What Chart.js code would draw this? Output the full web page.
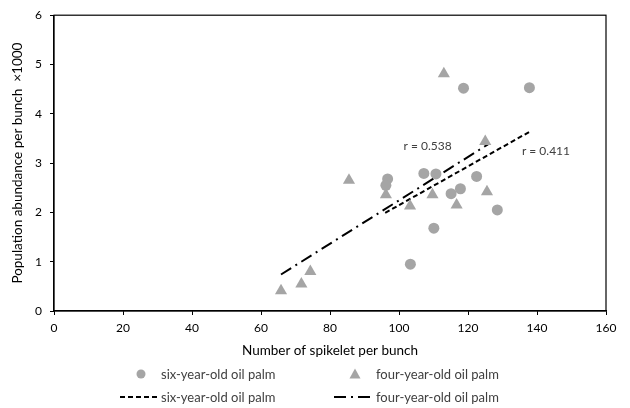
<!DOCTYPE html>
<html>
<head>
<meta charset="utf-8">
<script src="https://cdn.jsdelivr.net/npm/chart.js@4/dist/chart.umd.min.js"></script>
<style>
  html, body { margin: 0; padding: 0; background: #fff; }
  #wrap { width: 630px; height: 408px; }
</style>
</head>
<body>
<div id="wrap"><canvas id="spikeletChart"></canvas></div>
<script>
// Six-year-old palms (circles)
const sixX = [96.7, 96.2, 107.2, 110.7, 118.7, 137.8, 122.5, 117.8, 115.1, 128.5, 110.1, 103.3];
const sixY = [2.68, 2.55, 2.79, 2.78, 4.52, 4.53, 2.73, 2.48, 2.38, 2.05, 1.68, 0.95];
// Four-year-old palms (triangles)
const fourX = [113.0, 125.0, 85.5, 96.2, 109.7, 103.2, 116.7, 125.5, 74.3, 71.7, 65.8];
const fourY = [4.81, 3.44, 2.65, 2.36, 2.36, 2.13, 2.15, 2.42, 0.80, 0.55, 0.41];
// Trend line end points
const sixTrendX = [96.0, 137.7];
const sixTrendY = [1.99, 3.63];
const fourTrendX = [65.8, 125.8];
const fourTrendY = [0.74, 3.38];
// r labels
const rLabels = ['r = 0.538', 'r = 0.411'];
const rX = [108.3, 142.6];
const rY = [3.34, 3.24];

const xTicks = [0, 20, 40, 60, 80, 100, 120, 140, 160];
const yTicks = [0, 1, 2, 3, 4, 5, 6];

const FONT = 'Lato, "Noto Sans", sans-serif';
const GREY = '#a5a5a5';

const toPts = (xs, ys) => xs.map((x, i) => ({ x: x, y: ys[i] }));

// box around plot, r labels and the bottom legend
const extras = {
    id: 'extras',
    afterDraw(chart) {
        const ctx = chart.ctx;
        const a = chart.chartArea;
        const xs = chart.scales.x, ys = chart.scales.y;
        ctx.save();
        ctx.strokeStyle = '#000';
        ctx.lineWidth = 1.2;
        ctx.strokeRect(a.left, a.top, a.right - a.left, a.bottom - a.top);

        ctx.font = '12px ' + FONT;
        ctx.fillStyle = '#404040';
        ctx.textAlign = 'center';
        ctx.textBaseline = 'middle';
        rLabels.forEach((t, i) => ctx.fillText(t, xs.getPixelForValue(rX[i]), ys.getPixelForValue(rY[i])));

        // legend
        ctx.fillStyle = GREY;
        ctx.beginPath();
        ctx.arc(141, 374, 4.5, 0, Math.PI * 2);
        ctx.fill();
        ctx.beginPath();
        ctx.moveTo(355, 368.5);
        ctx.lineTo(360.5, 378.5);
        ctx.lineTo(349.5, 378.5);
        ctx.closePath();
        ctx.fill();

        ctx.font = '13px ' + FONT;
        ctx.textAlign = 'left';
        ctx.fillStyle = '#404040';
        ctx.fillText('six-year-old oil palm', 161, 375);
        ctx.fillText('four-year-old oil palm', 376, 375);
        ctx.fillText('six-year-old oil palm', 161, 398);
        ctx.fillText('four-year-old oil palm', 376, 398);

        ctx.strokeStyle = '#000';
        ctx.lineWidth = 2;
        ctx.setLineDash([5, 3]);
        ctx.beginPath();
        ctx.moveTo(120, 397);
        ctx.lineTo(159, 397);
        ctx.stroke();
        ctx.setLineDash([12, 5, 2, 5]);
        ctx.beginPath();
        ctx.moveTo(334, 397);
        ctx.lineTo(374, 397);
        ctx.stroke();
        ctx.restore();
    }
};

new Chart(document.getElementById('spikeletChart'), {
    type: 'scatter',
    data: {
        datasets: [
            {
                label: 'six-year-old oil palm',
                data: toPts(sixX, sixY),
                pointStyle: 'circle',
                pointRadius: 5.5,
                backgroundColor: GREY,
                borderWidth: 0
            },
            {
                label: 'four-year-old oil palm',
                data: toPts(fourX, fourY),
                pointStyle: 'triangle',
                pointRadius: 7,
                backgroundColor: GREY,
                borderWidth: 0
            },
            {
                label: 'six-year-old oil palm trend',
                data: toPts(sixTrendX, sixTrendY),
                showLine: true,
                pointRadius: 0,
                borderColor: '#000',
                borderWidth: 2,
                borderDash: [5, 3]
            },
            {
                label: 'four-year-old oil palm trend',
                data: toPts(fourTrendX, fourTrendY),
                showLine: true,
                pointRadius: 0,
                borderColor: '#000',
                borderWidth: 2,
                borderDash: [12, 5, 2, 5]
            }
        ]
    },
    options: {
        responsive: true,
        maintainAspectRatio: false,
        animation: false,
        layout: { padding: { left: 0, right: 24, top: 13, bottom: 48 } },
        plugins: {
            legend: { display: false },
            tooltip: { enabled: false }
        },
        scales: {
            x: {
                type: 'linear',
                min: 0,
                max: 160,
                afterBuildTicks: s => { s.ticks = xTicks.map(v => ({ value: v })); },
                afterFit: s => { s.height = 49; },
                grid: { drawOnChartArea: false, color: '#000', tickLength: 4 },
                border: { color: '#000', width: 1.2 },
                ticks: { color: '#000', font: { family: FONT, size: 12 }, padding: 6, maxRotation: 0 },
                title: {
                    display: true,
                    text: 'Number of spikelet per bunch',
                    color: '#000',
                    font: { family: FONT, size: 13.5 },
                    padding: { top: 0, bottom: 1 }
                }
            },
            y: {
                type: 'linear',
                min: 0,
                max: 6,
                afterBuildTicks: s => { s.ticks = yTicks.map(v => ({ value: v })); },
                afterFit: s => { s.width = 54; },
                grid: { drawOnChartArea: false, color: '#000', tickLength: 4 },
                border: { color: '#000', width: 1.2 },
                ticks: { color: '#000', font: { family: FONT, size: 12 }, padding: 8 },
                title: {
                    display: true,
                    text: 'Population abundance per bunch  \u00d71000',
                    color: '#000',
                    font: { family: FONT, size: 13.5 },
                    padding: { top: 10, bottom: 0 }
                }
            }
        }
    },
    plugins: [extras]
});
</script>
</body>
</html>
